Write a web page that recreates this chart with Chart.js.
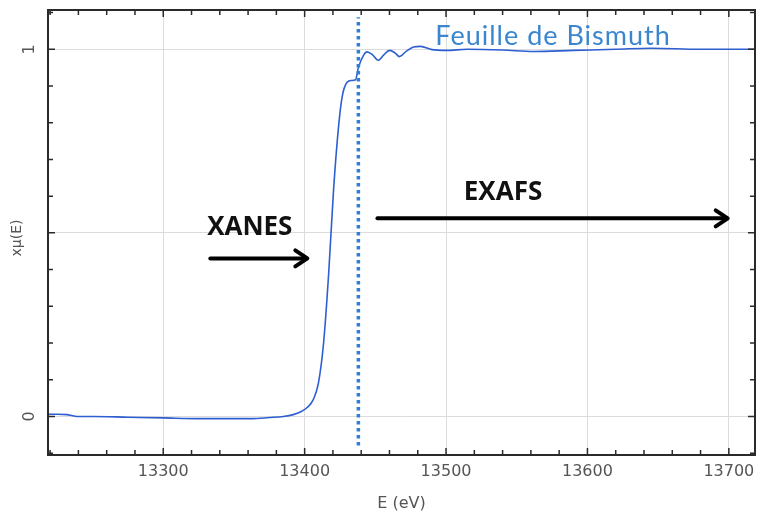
<!DOCTYPE html>
<html>
<head>
<meta charset="utf-8">
<script src="https://cdn.jsdelivr.net/npm/chart.js@4.4.1/dist/chart.umd.min.js"></script>
<style>
  html, body { margin: 0; padding: 0; background: #fff; }
  #wrap { width: 757px; height: 516px; }
</style>
</head>
<body>
<div id="wrap"><canvas id="xasChart"></canvas></div>
<script>
// Bi foil absorption spectrum
const energy = [13218.5, 13225, 13232, 13236, 13240, 13250, 13275, 13300, 13326, 13345, 13362, 13375, 13385, 13392,
  13397, 13402, 13406, 13409.7, 13413.4, 13417, 13420.5, 13424, 13426.5, 13430, 13433, 13436, 13438,
  13441.8, 13444, 13448, 13452, 13456, 13460, 13464, 13467, 13472, 13477, 13482, 13490, 13500, 13515,
  13540, 13562, 13590, 13620, 13645, 13680, 13713, 13718.5];
const mu = [0.006, 0.006, 0.005, 0.002, 0.0, 0.0, -0.002, -0.004, -0.006, -0.006, -0.006, -0.003, 0.0, 0.005,
  0.012, 0.025, 0.045, 0.09, 0.2, 0.39, 0.62, 0.79, 0.87, 0.91, 0.915, 0.917, 0.95,
  0.985, 0.993, 0.985, 0.97, 0.985, 0.997, 0.99, 0.98, 0.995, 1.006, 1.008, 0.999, 0.997, 1.0,
  0.998, 0.994, 0.997, 1.0, 1.003, 1.0, 1.0, 1.0];

// edge / EXAFS boundary marker
const boundaryE = 13438;
const boundaryY = [-0.079, 1.087];

const xTicks = [13300, 13400, 13500, 13600, 13700];
const yTicks = [0, 0.5, 1];
const yLabels = {0: "0", 1: "1"};

// annotations (data coordinates)
const noteTexts = ["XANES", "EXAFS", "Feuille de Bismuth"];
const noteX = [13361.2, 13540.3, 13575.7];
const noteY = [0.515, 0.609, 1.035];
const arrowFromX = [13333.3, 13451.5];
const arrowToX = [13401.9, 13699.2];
const arrowY = [0.4305, 0.5395];

const frameColor = "#2a2a2a";

const framePlugin = {
    id: "framePlugin",
    afterDatasetsDraw(chart) {
        const ctx = chart.ctx;
        const a = chart.chartArea;
        const xs = chart.scales.x;
        const ys = chart.scales.y;
        ctx.save();

        // inward ticks
        ctx.strokeStyle = frameColor;
        ctx.lineWidth = 1.5;
        for (let e = 13220; e <= 13718; e += 20) {
            const px = xs.getPixelForValue(e);
            const len = (e % 100 === 0) ? 7 : 5;
            ctx.beginPath();
            ctx.moveTo(px, a.bottom); ctx.lineTo(px, a.bottom - len);
            ctx.moveTo(px, a.top); ctx.lineTo(px, a.top + len);
            ctx.stroke();
        }
        for (let i = -1; i <= 11; i++) {
            const v = i / 10;
            const py = ys.getPixelForValue(v);
            const len = (i % 5 === 0) ? 7 : 5;
            ctx.beginPath();
            ctx.moveTo(a.left, py); ctx.lineTo(a.left + len, py);
            ctx.moveTo(a.right, py); ctx.lineTo(a.right - len, py);
            ctx.stroke();
        }

        // frame
        ctx.lineWidth = 2;
        ctx.strokeRect(a.left, a.top, a.right - a.left, a.bottom - a.top);

        // rotated y labels + title
        ctx.fillStyle = "#555";
        ctx.font = "16px 'DejaVu Sans'";
        ctx.textAlign = "center";
        ctx.textBaseline = "middle";
        Object.keys(yLabels).forEach(k => {
            ctx.save();
            ctx.translate(30, ys.getPixelForValue(Number(k)));
            ctx.rotate(-Math.PI / 2);
            ctx.fillText(yLabels[k], 0, 0);
            ctx.restore();
        });
        ctx.save();
        ctx.translate(17, 238);
        ctx.rotate(-Math.PI / 2);
        ctx.font = "14px 'DejaVu Sans'";
        ctx.fillText("xμ(E)", 0, 0);
        ctx.restore();

        // notes
        noteTexts.forEach((t, i) => {
            if (i < 2) {
                ctx.font = "bold 26px 'Open Sans'";
                ctx.fillStyle = "#111";
                ctx.letterSpacing = "0px";
            } else {
                ctx.font = "27px Lato";
                ctx.fillStyle = "#3b86cf";
                ctx.letterSpacing = "1px";
            }
            ctx.fillText(t, xs.getPixelForValue(noteX[i]), ys.getPixelForValue(noteY[i]));
        });
        ctx.letterSpacing = "0px";

        // arrows
        ctx.strokeStyle = "#000";
        ctx.lineWidth = 4;
        ctx.lineCap = "round";
        ctx.lineJoin = "round";
        arrowFromX.forEach((x0, i) => {
            const p0 = xs.getPixelForValue(x0);
            const p1 = xs.getPixelForValue(arrowToX[i]);
            const py = ys.getPixelForValue(arrowY[i]);
            ctx.beginPath();
            ctx.moveTo(p0, py); ctx.lineTo(p1 - 2, py);
            ctx.stroke();
            ctx.beginPath();
            ctx.moveTo(p1 - 12, py - 8); ctx.lineTo(p1, py); ctx.lineTo(p1 - 12, py + 8);
            ctx.stroke();
        });
        ctx.restore();
    }
};

const ctx = document.getElementById("xasChart").getContext("2d");
new Chart(ctx, {
    type: "scatter",
    data: {
        datasets: [
            {
                label: "boundary",
                data: boundaryY.map(v => ({x: boundaryE, y: v})),
                showLine: true,
                borderColor: "#2f7fd4",
                borderWidth: 3.5,
                borderDash: [3.5, 3.5],
                borderCapStyle: "butt",
                pointRadius: 0,
            },
            {
                label: "Bi foil",
                data: energy.map((e, i) => ({x: e, y: mu[i]})),
                showLine: true,
                borderColor: "#2d5fd2",
                borderWidth: 1.6,
                cubicInterpolationMode: "monotone",
                pointRadius: 0,
            },
        ],
    },
    options: {
        responsive: true,
        maintainAspectRatio: false,
        animation: false,
        layout: { padding: { left: 0, right: 2, top: 10, bottom: 0 } },
        plugins: {
            legend: { display: false },
            tooltip: { enabled: false },
        },
        scales: {
            x: {
                type: "linear",
                min: 13218.5,
                max: 13718.5,
                afterBuildTicks: s => { s.ticks = xTicks.map(v => ({value: v})); },
                afterFit: s => { s.height = 61; s.paddingLeft = 0; s.paddingRight = 0; },
                grid: { color: "#dcdcdc", lineWidth: 1, drawTicks: false },
                border: { display: false },
                ticks: {
                    padding: 7,
                    color: "#555",
                    font: { family: "DejaVu Sans", size: 16 },
                    maxRotation: 0,
                    callback: v => String(v),
                },
                title: {
                    display: true,
                    text: "E (eV)",
                    color: "#555",
                    font: { family: "DejaVu Sans", size: 16 },
                    padding: { top: 0, bottom: 3 },
                },
            },
            y: {
                min: -0.105,
                max: 1.107,
                afterBuildTicks: s => { s.ticks = yTicks.map(v => ({value: v})); },
                afterFit: s => { s.width = 48; s.paddingTop = 0; s.paddingBottom = 0; },
                grid: { color: "#dcdcdc", lineWidth: 1, drawTicks: false },
                border: { display: false },
                ticks: { display: false },
            },
        },
    },
    plugins: [framePlugin],
});
</script>
</body>
</html>
